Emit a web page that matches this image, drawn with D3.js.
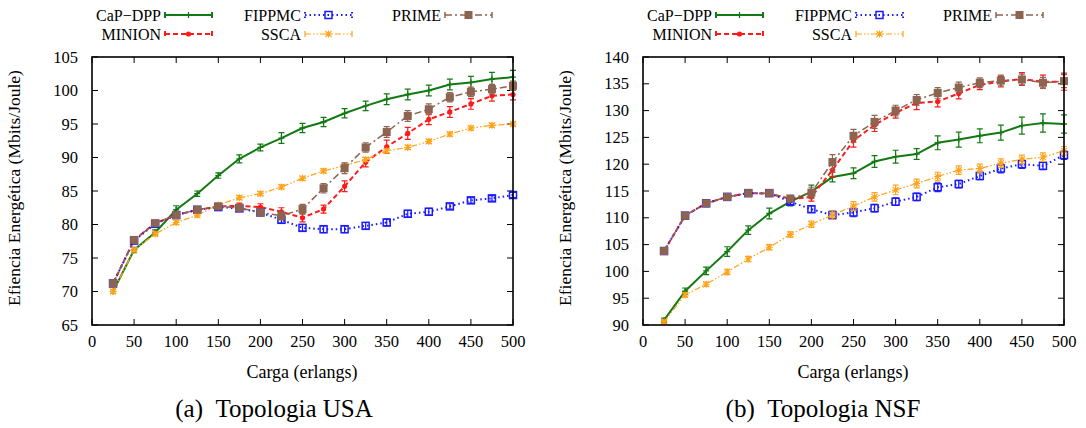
<!DOCTYPE html>
<html>
<head>
<meta charset="utf-8">
<script src="https://cdn.jsdelivr.net/npm/d3@7"></script>
<style>
body { margin: 0; background: #fff; }
</style>
</head>
<body>
<svg id="fig" width="1086" height="428" font-family="'Liberation Serif', 'Times New Roman', Times, 'DejaVu Serif', serif"></svg>
<script>
// load values (erlangs)
var carga = [25, 50, 75, 100, 125, 150, 175, 200, 225, 250, 275, 300, 325, 350, 375, 400, 425, 450, 475, 500];
var xTicks = [0, 50, 100, 150, 200, 250, 300, 350, 400, 450, 500];
var usaTicks = [65, 70, 75, 80, 85, 90, 95, 100, 105];
var nsfTicks = [90, 95, 100, 105, 110, 115, 120, 125, 130, 135, 140];
var seriesNames = ["CaP\u2212DPP", "MINION", "FIPPMC", "SSCA", "PRIME"];

// (a) Topologia USA
var usaCapdpp = [70.0, 76.2, 78.8, 82.2, 84.6, 87.3, 89.8, 91.5, 92.9, 94.4, 95.3, 96.6, 97.7, 98.7, 99.4, 100.0, 100.9, 101.2, 101.7, 102.0];
var usaMinion = [71.2, 77.7, 80.2, 81.4, 82.2, 82.7, 82.8, 82.6, 81.9, 81.0, 82.3, 85.7, 89.3, 91.6, 93.6, 95.7, 96.8, 98.0, 99.2, 99.4];
var usaFippmc = [71.2, 77.6, 80.1, 81.4, 82.2, 82.6, 82.4, 81.8, 80.7, 79.5, 79.3, 79.3, 79.8, 80.3, 81.6, 81.9, 82.7, 83.6, 83.9, 84.4];
var usaSsca   = [70.0, 76.2, 78.6, 80.3, 81.4, 82.9, 84.0, 84.6, 85.6, 86.9, 88.0, 88.8, 89.7, 91.0, 91.5, 92.4, 93.5, 94.4, 94.8, 95.0];
var usaPrime  = [71.2, 77.7, 80.2, 81.4, 82.2, 82.7, 82.5, 81.8, 81.3, 82.3, 85.4, 88.4, 91.5, 93.8, 96.2, 97.2, 99.0, 99.8, 100.2, 100.7];
var usaCapdppErr = [0.3, 0.4, 0.4, 0.6, 0.4, 0.4, 0.6, 0.5, 0.8, 0.7, 0.7, 0.7, 0.7, 0.8, 0.8, 0.8, 0.8, 0.9, 1.0, 1.0];
var usaMinionErr = [0.3, 0.3, 0.3, 0.3, 0.3, 0.3, 0.4, 0.5, 0.6, 0.6, 0.6, 0.8, 0.7, 1.0, 0.9, 0.8, 0.8, 0.8, 0.8, 0.8];
var usaFippmcErr = [0.3, 0.3, 0.3, 0.3, 0.3, 0.3, 0.3, 0.4, 0.5, 0.5, 0.5, 0.5, 0.5, 0.5, 0.5, 0.5, 0.4, 0.4, 0.4, 0.4];
var usaSscaErr   = [0.3, 0.3, 0.3, 0.3, 0.3, 0.3, 0.3, 0.3, 0.3, 0.3, 0.3, 0.3, 0.3, 0.3, 0.3, 0.3, 0.3, 0.3, 0.3, 0.3];
var usaPrimeErr  = [0.3, 0.3, 0.3, 0.3, 0.3, 0.3, 0.4, 0.5, 0.6, 0.7, 0.7, 0.8, 0.7, 0.8, 0.8, 0.8, 0.7, 0.7, 0.7, 0.7];

// (b) Topologia NSF
var nsfCapdpp = [90.9, 96.3, 100.1, 103.7, 107.7, 110.8, 113.0, 114.9, 117.6, 118.3, 120.5, 121.4, 121.9, 124.0, 124.6, 125.3, 125.9, 127.2, 127.7, 127.5];
var nsfMinion = [103.8, 110.4, 112.7, 113.9, 114.6, 114.5, 113.5, 113.9, 118.9, 124.4, 127.3, 129.6, 131.4, 131.7, 133.2, 134.8, 135.4, 135.9, 135.4, 135.4];
var nsfFippmc = [103.8, 110.4, 112.7, 113.9, 114.6, 114.6, 113.0, 111.6, 110.5, 111.0, 111.8, 113.0, 113.9, 115.7, 116.3, 117.8, 119.2, 120.0, 119.7, 121.7];
var nsfSsca   = [90.6, 95.6, 97.6, 99.9, 102.3, 104.5, 106.9, 108.8, 110.5, 112.2, 113.9, 115.2, 116.4, 117.7, 118.9, 119.2, 120.2, 120.9, 121.3, 122.5];
var nsfPrime  = [103.8, 110.4, 112.7, 113.9, 114.6, 114.6, 113.6, 114.7, 120.4, 125.3, 127.9, 130.0, 132.0, 133.3, 134.3, 135.2, 135.6, 135.8, 135.2, 135.5];
var nsfCapdppErr = [0.4, 0.6, 0.7, 0.9, 0.8, 1.0, 0.8, 1.2, 0.9, 1.0, 1.1, 1.2, 1.0, 1.3, 1.4, 1.3, 1.4, 1.6, 1.7, 1.7];
var nsfMinionErr = [0.3, 0.4, 0.4, 0.4, 0.4, 0.4, 0.6, 0.8, 1.2, 1.2, 1.2, 1.0, 1.2, 1.0, 1.0, 0.9, 1.0, 1.2, 1.2, 1.6];
var nsfFippmcErr = [0.3, 0.3, 0.3, 0.3, 0.3, 0.4, 0.5, 0.6, 0.8, 0.8, 0.7, 0.7, 0.7, 0.8, 0.7, 0.7, 0.8, 0.8, 0.7, 0.8];
var nsfSscaErr   = [0.3, 0.4, 0.4, 0.5, 0.5, 0.5, 0.5, 0.6, 0.8, 0.8, 0.8, 0.9, 0.8, 0.8, 0.8, 0.8, 0.8, 0.8, 0.8, 0.8];
var nsfPrimeErr  = [0.3, 0.4, 0.4, 0.4, 0.4, 0.4, 0.6, 1.0, 1.4, 1.2, 1.2, 1.0, 1.0, 1.0, 1.0, 0.9, 1.0, 1.0, 1.0, 1.2];

// gnuplot-like line styles, in plot order
var styles = [
    { color: "#137a13", width: 2,   dash: null,              pt: "plus" },
    { color: "#ff1a1a", width: 2,   dash: "5,3",             pt: "circle" },
    { color: "#1a1aff", width: 2,   dash: "1.5,3",           pt: "openSquare" },
    { color: "#ffa31a", width: 1.2, dash: "6,2,1.5,2,1.5,2", pt: "star" },
    { color: "#8c6450", width: 1.5, dash: "7,3,2,3",         pt: "filledSquare" }
];

var svg = d3.select("#fig");
svg.append("rect").attr("width", 1086).attr("height", 428).attr("fill", "#fff");

function drawPoint(g, type, x, y, color) {
    if (type == "plus") {
        g.append("path").attr("d", "M" + (x - 3) + "," + y + "h6M" + x + "," + (y - 3) + "v6")
            .attr("stroke", color).attr("stroke-width", 1.3).attr("fill", "none");
    } else if (type == "circle") {
        g.append("circle").attr("cx", x).attr("cy", y).attr("r", 2.6).attr("fill", color);
    } else if (type == "openSquare") {
        g.append("rect").attr("x", x - 3.5).attr("y", y - 3.5).attr("width", 7).attr("height", 7)
            .attr("fill", "none").attr("stroke", color).attr("stroke-width", 1.5);
    } else if (type == "star") {
        g.append("path").attr("d", "M" + (x - 3.5) + "," + y + "h7M" + x + "," + (y - 3.5) + "v7" +
                "M" + (x - 3) + "," + (y - 3) + "l6,6M" + (x - 3) + "," + (y + 3) + "l6,-6")
            .attr("stroke", color).attr("stroke-width", 1.1).attr("fill", "none");
    } else {
        g.append("rect").attr("x", x - 4).attr("y", y - 4).attr("width", 8).attr("height", 8)
            .attr("fill", color);
    }
}

function drawPanel(p) {
    var x = d3.scaleLinear().domain([0, 500]).range([p.left, p.left + 421]);
    var y = d3.scaleLinear().domain(p.yDomain).range([325, 57]);
    var g = svg.append("g");

    // ticks on all four sides, pointing inward
    var tk = g.append("g").attr("stroke", "#000").attr("stroke-width", 1);
    xTicks.forEach(function(t) {
        tk.append("line").attr("x1", x(t)).attr("x2", x(t)).attr("y1", 325).attr("y2", 319);
        tk.append("line").attr("x1", x(t)).attr("x2", x(t)).attr("y1", 57).attr("y2", 63);
    });
    p.yTicks.forEach(function(t) {
        tk.append("line").attr("x1", x(0)).attr("x2", x(0) + 6).attr("y1", y(t)).attr("y2", y(t));
        tk.append("line").attr("x1", x(500)).attr("x2", x(500) - 6).attr("y1", y(t)).attr("y2", y(t));
    });

    g.selectAll(".xl").data(xTicks).enter().append("text")
        .attr("x", function(d) { return x(d); }).attr("y", 347)
        .attr("text-anchor", "middle").attr("font-size", 16.5).text(function(d) { return d; });
    g.selectAll(".yl").data(p.yTicks).enter().append("text")
        .attr("x", x(0) - 14).attr("y", function(d) { return y(d) + 5.5; })
        .attr("text-anchor", "end").attr("font-size", 16.5).text(function(d) { return d; });

    // series
    var line = d3.line().x(function(d) { return x(d[0]); }).y(function(d) { return y(d[1]); });
    p.values.forEach(function(vals, i) {
        var st = styles[i];
        var pts = carga.map(function(c, j) { return [c, vals[j], p.errs[i][j]]; });
        var sg = g.append("g");
        sg.append("path").attr("d", line(pts)).attr("fill", "none")
            .attr("stroke", st.color).attr("stroke-width", st.width)
            .attr("stroke-dasharray", st.dash);
        pts.forEach(function(d) {
            var px = x(d[0]), y0 = y(d[1] - d[2]), y1 = y(d[1] + d[2]);
            sg.append("path").attr("d", "M" + px + "," + y0 + "V" + y1 +
                    "M" + (px - 3) + "," + y0 + "h6M" + (px - 3) + "," + y1 + "h6")
                .attr("fill", "none").attr("stroke", st.color).attr("stroke-width", 1.2);
            drawPoint(sg, st.pt, px, y(d[1]), st.color);
        });
    });

    // border
    g.append("rect").attr("x", x(0)).attr("y", 57).attr("width", 421).attr("height", 268)
        .attr("fill", "none").attr("stroke", "#000").attr("stroke-width", 1.6);

    // legend (3 columns, 2 rows)
    seriesNames.forEach(function(name, i) {
        var col = Math.floor(i / 2), row = i % 2;
        var sx = p.left + 73 + col * 140, sy = 15 + row * 19;
        var st = styles[i];
        g.append("text").attr("x", sx - 4).attr("y", sy + 5.5).attr("text-anchor", "end")
            .attr("font-size", 16).text(name);
        g.append("path").attr("d", "M" + sx + "," + sy + "h47M" + sx + "," + (sy - 3) + "v6M" + (sx + 47) + "," + (sy - 3) + "v6")
            .attr("fill", "none").attr("stroke", st.color).attr("stroke-width", st.width)
            .attr("stroke-dasharray", st.dash);
        drawPoint(g, st.pt, sx + 23.5, sy, st.color);
    });

    // axis titles and caption
    g.append("text").attr("transform", "translate(" + (p.left - 72) + ",188) rotate(-90)")
        .attr("text-anchor", "middle").attr("font-size", 17.5)
        .text("Efiencia Energética (Mbits/Joule)");
    g.append("text").attr("x", p.left + 210).attr("y", 378).attr("text-anchor", "middle")
        .attr("font-size", 18).text("Carga (erlangs)");
    g.append("text").attr("x", p.captionX).attr("y", 417).attr("text-anchor", "middle")
        .attr("font-size", 25).text(p.caption);
}

drawPanel({
    left: 92, yDomain: [65, 105], yTicks: usaTicks, captionX: 274, caption: "(a)\u2002Topologia USA",
    values: [usaCapdpp, usaMinion, usaFippmc, usaSsca, usaPrime],
    errs: [usaCapdppErr, usaMinionErr, usaFippmcErr, usaSscaErr, usaPrimeErr]
});
drawPanel({
    left: 643, yDomain: [90, 140], yTicks: nsfTicks, captionX: 823, caption: "(b)\u2002Topologia NSF",
    values: [nsfCapdpp, nsfMinion, nsfFippmc, nsfSsca, nsfPrime],
    errs: [nsfCapdppErr, nsfMinionErr, nsfFippmcErr, nsfSscaErr, nsfPrimeErr]
});
</script>
</body>
</html>
